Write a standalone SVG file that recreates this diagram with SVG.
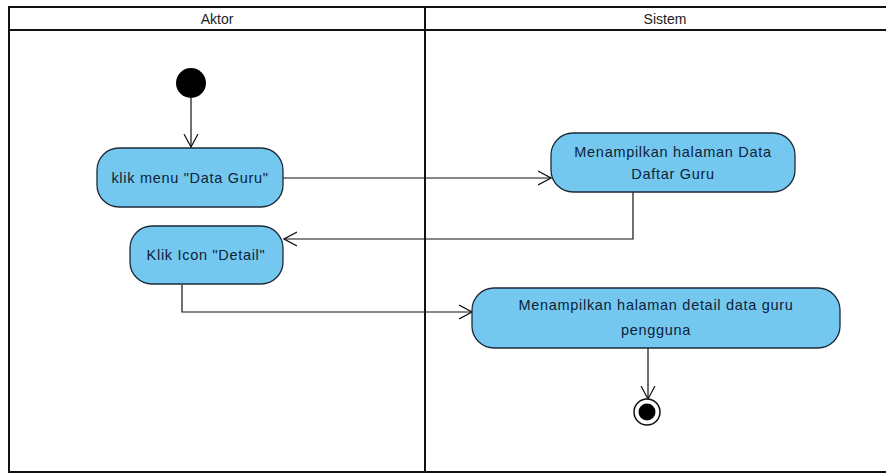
<svg xmlns="http://www.w3.org/2000/svg" width="886" height="474" viewBox="0 0 886 474">
<defs>
<style>
.lane{fill:none;stroke:#111;stroke-width:2}
.act{fill:#74C8F0;stroke:#1c2a38;stroke-width:1.3}
.t{font-family:"Liberation Sans",Arial,sans-serif;font-size:14.5px;letter-spacing:0.7px;fill:#0e2238;text-anchor:middle}
.h{font-family:"Liberation Sans",Arial,sans-serif;font-size:14px;fill:#222;text-anchor:middle}
.c{fill:none;stroke:#111;stroke-width:1.2}
</style>
<marker id="ah" viewBox="0 0 14 16" refX="13" refY="8" markerWidth="14" markerHeight="16" markerUnits="userSpaceOnUse" orient="auto">
<path d="M0,1 L13,8 L0,15" fill="none" stroke="#111" stroke-width="1.2"/>
</marker>
</defs>
<rect width="886" height="474" fill="#fff"/>
<g id="swimlanes">
<line class="lane" x1="9" y1="7" x2="886" y2="7"/>
<line class="lane" x1="9" y1="30" x2="886" y2="30"/>
<line class="lane" x1="9" y1="472" x2="886" y2="472"/>
<line class="lane" x1="9" y1="6" x2="9" y2="473"/>
<line class="lane" x1="425" y1="6" x2="425" y2="473"/>
<text class="h" x="217" y="24">Aktor</text>
<text class="h" x="665" y="24">Sistem</text>
</g>
<g id="connectors">
<path class="c" d="M191,98 V147" marker-end="url(#ah)"/>
<path class="c" d="M283,178 H551" marker-end="url(#ah)"/>
<path class="c" d="M633,192 V239 H284" marker-end="url(#ah)"/>
<path class="c" d="M182,285 V312 H472" marker-end="url(#ah)"/>
<path class="c" d="M648,348 V399" marker-end="url(#ah)"/>
</g>
<g id="start"><circle cx="191" cy="83" r="15" fill="#000"/></g>
<g id="n1"><rect class="act" x="97" y="148" width="186" height="59" rx="22"/><text class="t" x="190" y="183">klik menu "Data Guru"</text></g>
<g id="n2"><rect class="act" x="130" y="226" width="153" height="58" rx="22"/><text class="t" x="206" y="260">Klik Icon "Detail"</text></g>
<g id="n3"><rect class="act" x="551" y="133" width="244" height="59" rx="22"/><text class="t" x="673" y="157">Menampilkan halaman Data</text><text class="t" x="673" y="179">Daftar Guru</text></g>
<g id="n4"><rect class="act" x="472" y="288" width="368" height="60" rx="22"/><text class="t" x="656" y="310">Menampilkan halaman detail data guru</text><text class="t" x="656" y="335">pengguna</text></g>
<g id="end"><circle cx="647" cy="412" r="13" fill="#fff" stroke="#111" stroke-width="1.5"/><circle cx="647" cy="412" r="8.5" fill="#000"/></g>
</svg>
